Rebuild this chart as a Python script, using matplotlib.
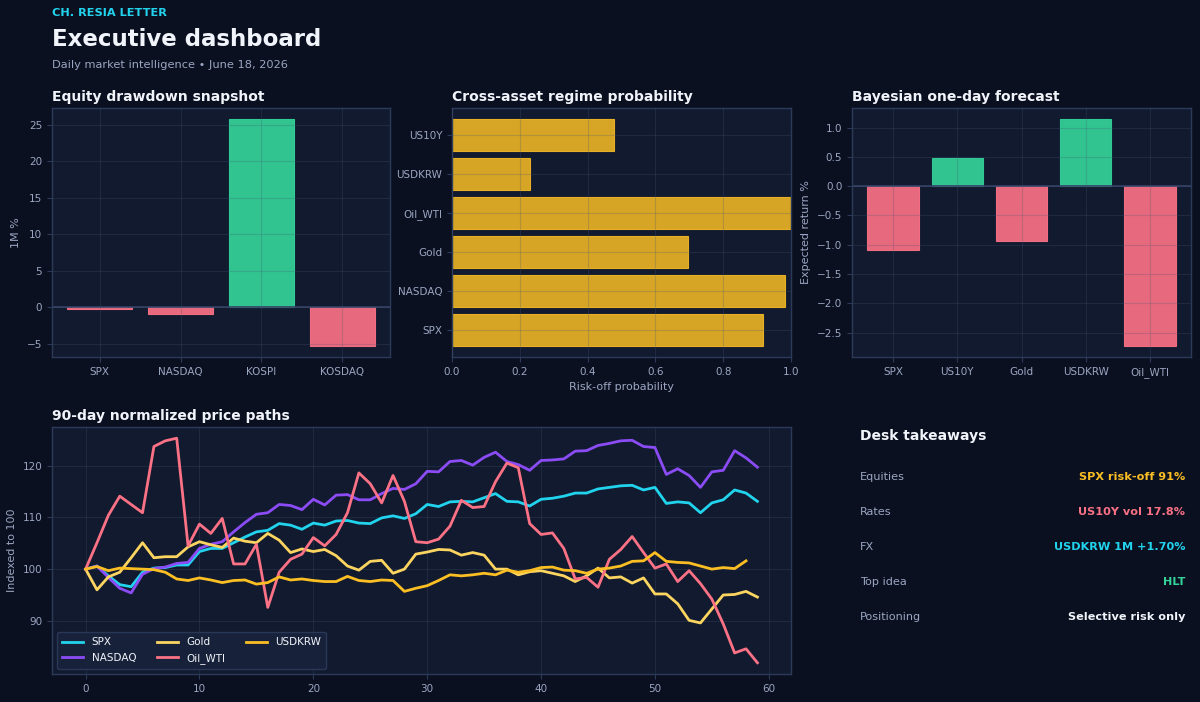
import matplotlib
matplotlib.use("Agg")
import matplotlib.pyplot as plt
import numpy as np

# ---------------- data ----------------
eq_names = ["SPX", "NASDAQ", "KOSPI", "KOSDAQ"]
eq_1m = [-0.22, -0.95, 25.75, -5.28]

regime_names = ["SPX", "NASDAQ", "Gold", "Oil_WTI", "USDKRW", "US10Y"]
regime_prob = [0.916, 0.982, 0.697, 1.0, 0.231, 0.478]

fc_names = ["SPX", "US10Y", "Gold", "USDKRW", "Oil_WTI"]
fc_ret = [-1.09, 0.48, -0.94, 1.14, -2.72]

spx = [100, 100.6, 98.7, 97.0, 96.6, 99.4, 100.2, 100.3, 100.8, 100.8,
       103.4, 104.0, 104.0, 105.1, 106.2, 107.2, 107.5, 108.8, 108.5, 107.7,
       108.9, 108.5, 109.3, 109.4, 108.9, 108.8, 109.9, 110.3, 109.8, 110.7,
       112.5, 112.1, 113.0, 113.1, 113.0, 113.8, 114.6, 113.1, 113.0, 112.2,
       113.5, 113.7, 114.1, 114.7, 114.7, 115.5, 115.8, 116.1, 116.2, 115.3,
       115.8, 112.7, 113.0, 112.8, 110.9, 112.8, 113.4, 115.3, 114.7, 113.1]
nasdaq = [100, 100.6, 98.4, 96.3, 95.4, 99.0, 100.1, 100.4, 101.1, 101.3,
          104.0, 104.8, 105.3, 107.2, 109.0, 110.6, 110.9, 112.5, 112.3, 111.5,
          113.5, 112.4, 114.3, 114.4, 113.4, 113.4, 114.6, 115.6, 115.4, 116.5,
          118.9, 118.8, 120.8, 121.0, 120.1, 121.6, 122.6, 120.8, 120.2, 119.1,
          121.0, 121.1, 121.3, 122.8, 122.9, 123.9, 124.3, 124.8, 124.9, 123.7,
          123.5, 118.3, 119.4, 118.1, 115.8, 118.8, 119.1, 122.9, 121.5, 119.7]
oil = [100, 105.1, 110.4, 114.1, 112.5, 110.9, 123.7, 124.8, 125.3, 104.5,
       108.7, 106.9, 109.8, 101.0, 101.0, 104.8, 92.6, 99.4, 101.9, 102.9,
       106.1, 104.5, 106.7, 110.9, 118.6, 116.5, 112.8, 118.1, 113.1, 105.3,
       105.1, 105.8, 108.3, 113.3, 111.9, 112.1, 116.9, 120.5, 119.6, 108.8,
       106.7, 107.0, 104.0, 98.1, 98.4, 96.5, 101.9, 103.8, 106.3, 103.2,
       100.2, 101.0, 97.6, 99.7, 97.2, 94.2, 89.4, 83.8, 84.6, 81.9]
gold = [100, 96.0, 98.5, 99.4, 102.2, 105.1, 102.2, 102.4, 102.4, 104.3,
        105.3, 104.7, 104.2, 106.0, 105.4, 105.1, 106.9, 105.6, 103.2, 103.9,
        103.4, 103.8, 102.6, 100.6, 99.8, 101.5, 101.7, 99.2, 100.0, 102.9,
        103.3, 103.8, 103.7, 102.7, 103.2, 102.7, 100.0, 100.0, 98.9, 99.5,
        99.7, 99.2, 98.7, 97.6, 98.7, 100.2, 98.3, 98.5, 97.3, 98.3,
        95.2, 95.2, 93.3, 90.1, 89.6, 92.3, 95.0, 95.1, 95.7, 94.6]
usdkrw = [100, 100.5, 99.7, 100.2, 100.1, 100.0, 99.9, 99.4, 98.1, 97.8,
          98.3, 97.9, 97.4, 97.8, 97.9, 97.1, 97.4, 98.5, 97.9, 98.1,
          97.8, 97.6, 97.6, 98.6, 97.8, 97.6, 97.9, 97.8, 95.7, 96.3,
          96.8, 97.8, 98.9, 98.7, 98.9, 99.2, 98.9, 99.8, 99.4, 99.7,
          100.3, 100.4, 99.8, 99.7, 99.2, 100.0, 100.2, 100.6, 101.5, 101.6,
          103.2, 101.5, 101.3, 101.2, 100.6, 100.0, 100.3, 100.1, 101.6]

path_names = ["SPX", "NASDAQ", "Gold", "Oil_WTI", "USDKRW"]
path_values = [spx, nasdaq, gold, oil, usdkrw]

take_labels = ["Equities", "Rates", "FX", "Top idea", "Positioning"]
take_values = ["SPX risk-off 91%", "US10Y vol 17.8%", "USDKRW 1M +1.70%", "HLT", "Selective risk only"]

# ---------------- style ----------------
BG = "#0b1020"
AX = "#111a2e"
GRID = "#4a5878"
SPINE = "#2c3a5a"
TICK = "#9aa6c2"
WHITE = "#f1f4fa"
GREEN = "#34d399"
RED = "#fb7185"
AMBER = "#fbbf24"
CYAN = "#22d3ee"
PURPLE = "#8b4cf6"
LGOLD = "#fcd561"

plt.rcParams.update({
    "font.family": ["DejaVu Sans"],
    "font.size": 7.5,
    "axes.facecolor": AX,
    "axes.edgecolor": SPINE,
    "axes.labelcolor": TICK,
    "xtick.color": TICK,
    "ytick.color": TICK,
    "xtick.labelcolor": TICK,
    "ytick.labelcolor": TICK,
    "xtick.labelsize": 7.5,
    "ytick.labelsize": 7.5,
    "axes.labelsize": 8,
})

fig = plt.figure(figsize=(12, 7.02), dpi=100, facecolor=BG)

W, H = 1200, 702
def box(l, t, r, b):
    return [l / W, 1 - b / H, (r - l) / W, (b - t) / H]

def style(ax):
    ax.set_facecolor(AX)
    for s in ax.spines.values():
        s.set_color(SPINE)
        s.set_linewidth(1)
    ax.grid(True, color=GRID, linewidth=0.8, alpha=0.25)
    ax.set_axisbelow(False)
    ax.tick_params(length=3.5, color=SPINE)

def title(ax, t):
    ax.set_title(t, loc="left", color=WHITE, fontsize=10, fontweight="bold", pad=5)

# header
fig.text(52 / W, 1 - 13 / H, "CH. RESIA LETTER", color=CYAN, fontsize=8.2,
         fontweight="bold", va="center", ha="left")
fig.text(52 / W, 1 - 39 / H, "Executive dashboard", color=WHITE, fontsize=16.5,
         fontweight="bold", va="center", ha="left")
fig.text(52 / W, 1 - 65 / H, "Daily market intelligence \u2022 June 18, 2026", color=TICK,
         fontsize=8.2, va="center", ha="left")

# panel 1
ax1 = fig.add_axes(box(52, 108, 390, 357))
style(ax1)
c1 = [GREEN if v >= 0 else RED for v in eq_1m]
ax1.bar(eq_names, eq_1m, color=c1, alpha=0.92, edgecolor=c1, linewidth=0.8)
ax1.axhline(0, color="#334166", linewidth=1.2)
ax1.set_ylabel("1M %")
title(ax1, "Equity drawdown snapshot")

# panel 2
ax2 = fig.add_axes(box(452, 108, 791, 357))
style(ax2)
ax2.barh(regime_names, regime_prob, color=AMBER, alpha=0.85, edgecolor=AMBER, linewidth=0.8)
ax2.set_xlim(0, 1)
ax2.set_xlabel("Risk-off probability")
title(ax2, "Cross-asset regime probability")

# panel 3
ax3 = fig.add_axes(box(852, 108, 1191, 357))
style(ax3)
c3 = [GREEN if v >= 0 else RED for v in fc_ret]
ax3.bar(fc_names, fc_ret, color=c3, alpha=0.92, edgecolor=c3, linewidth=0.8)
ax3.axhline(0, color="#334166", linewidth=1.2)
ax3.set_ylabel("Expected return %")
title(ax3, "Bayesian one-day forecast")

# line chart
ax4 = fig.add_axes(box(52, 427, 791, 674))
style(ax4)
ax4.set_axisbelow(True)
line_colors = [CYAN, PURPLE, LGOLD, RED, AMBER]
for name, vals, col in zip(path_names, path_values, line_colors):
    ax4.plot(np.arange(len(vals)), vals, color=col, linewidth=2, label=name)
ax4.set_ylabel("Indexed to 100")
ax4.set_yticks([90, 100, 110, 120])
title(ax4, "90-day normalized price paths")
leg = ax4.legend(loc="lower left", ncol=3, fontsize=7.5, frameon=True,
                 facecolor="#18223a", edgecolor=SPINE, labelcolor=WHITE,
                 borderpad=0.5, handlelength=2.0, columnspacing=2.0)
leg.get_frame().set_alpha(0.95)

# takeaways
fig.text(860 / W, 1 - 436 / H, "Desk takeaways", color=WHITE, fontsize=10,
         fontweight="bold", va="center", ha="left")
val_colors = [AMBER, RED, CYAN, GREEN, WHITE]
row_y = [477, 512, 547, 582, 617]
for lab, val, col, yy in zip(take_labels, take_values, val_colors, row_y):
    fig.text(860 / W, 1 - yy / H, lab, color=TICK, fontsize=8.1, va="center", ha="left")
    fig.text(1185 / W, 1 - yy / H, val, color=col, fontsize=8.1, fontweight="bold",
             va="center", ha="right")

fig.savefig("out.png", dpi=100, facecolor=BG)
